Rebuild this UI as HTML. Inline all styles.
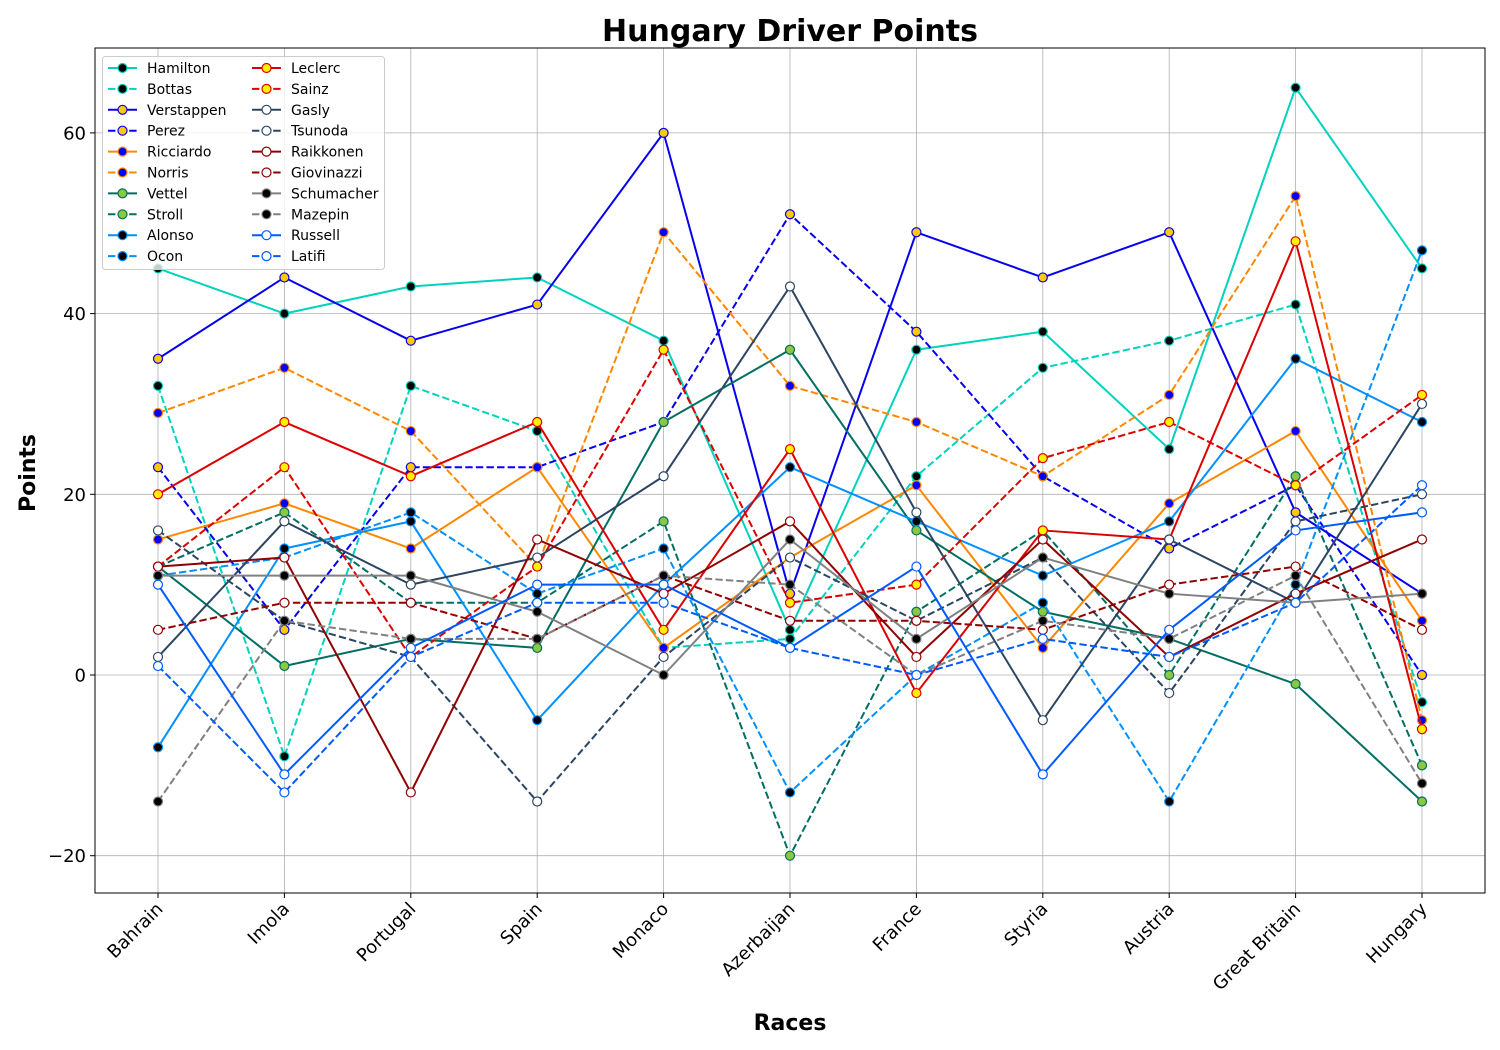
<!DOCTYPE html>
<html><head><meta charset="utf-8"><style>
body{margin:0;background:#fff;}
svg{display:block;font-family:"DejaVu Sans","Liberation Sans",sans-serif;}
</style></head><body>
<svg id="chart" width="1500" height="1050" viewBox="0 0 1500 1050">
<rect x="0" y="0" width="1500" height="1050" fill="#fff"/>
<text x="790" y="41" text-anchor="middle" font-size="30" font-weight="bold">Hungary Driver Points</text>
<g id="grid"></g>
<g id="series"></g>
<rect x="95" y="48" width="1390" height="845" fill="none" stroke="#000" stroke-width="1"/>
<g id="ticks"></g>
<text x="790" y="1030" text-anchor="middle" font-size="22" font-weight="bold">Races</text>
<text transform="translate(35,473) rotate(-90)" text-anchor="middle" font-size="22" font-weight="bold">Points</text>
<g id="legend"></g>
</svg>
<script>
const races = ["Bahrain","Imola","Portugal","Spain","Monaco","Azerbaijan","France","Styria","Austria","Great Britain","Hungary"];
const yTicks = [-20,0,20,40,60];
const drivers = ["Hamilton","Bottas","Verstappen","Perez","Ricciardo","Norris","Vettel","Stroll","Alonso","Ocon","Leclerc","Sainz","Gasly","Tsunoda","Raikkonen","Giovinazzi","Schumacher","Mazepin","Russell","Latifi"];
const hamilton = [45,40,43,44,37,5,36,38,25,65,45];
const bottas = [32,-9,32,27,3,4,22,34,37,41,-3];
const verstappen = [35,44,37,41,60,9,49,44,49,18,9];
const perez = [23,5,23,23,28,51,38,22,14,21,0];
const ricciardo = [15,19,14,23,3,13,21,3,19,27,6];
const norris = [29,34,27,12,49,32,28,22,31,53,-5];
const vettel = [12,1,4,3,28,36,16,7,4,-1,-14];
const stroll = [12,18,8,8,17,-20,7,16,0,22,-10];
const alonso = [-8,14,17,-5,10,23,17,11,17,35,28];
const ocon = [11,13,18,9,14,-13,0,8,-14,10,47];
const leclerc = [20,28,22,28,5,25,-2,16,15,48,-6];
const sainz = [12,23,2,12,36,8,10,24,28,21,31];
const gasly = [2,17,10,13,22,43,18,-5,15,8,30];
const tsunoda = [16,6,2,-14,2,13,6,13,-2,17,20];
const raikkonen = [12,13,-13,15,9,17,2,15,2,9,15];
const giovinazzi = [5,8,8,4,11,6,6,5,10,12,5];
const schumacher = [11,11,11,7,0,15,4,13,9,8,9];
const mazepin = [-14,6,4,4,11,10,0,6,4,11,-12];
const russell = [10,-11,3,10,10,3,12,-11,5,16,18];
const latifi = [1,-13,2,8,8,3,0,4,2,8,21];
const seriesValues = [hamilton,bottas,verstappen,perez,ricciardo,norris,vettel,stroll,alonso,ocon,leclerc,sainz,gasly,tsunoda,raikkonen,giovinazzi,schumacher,mazepin,russell,latifi];

const lineColors = ["#00D2BE","#00D2BE","#0600EF","#0600EF","#FF8700","#FF8700","#006F62","#006F62","#0090FF","#0090FF","#DC0000","#DC0000","#2B4562","#2B4562","#900000","#900000","#808080","#808080","#005AFF","#005AFF"];
const faceColors = ["#000","#000","#FFC906","#FFC906","#0000FF","#0000FF","#8DC63F","#8DC63F","#000","#000","#FFF200","#FFF200","#fff","#fff","#fff","#fff","#000","#000","#fff","#fff"];

const NS="http://www.w3.org/2000/svg";
const X0=158, DX=126.4, Y0=675, PPU=9.035;
function xs(i){return X0+i*DX;}
function ys(v){return Y0-v*PPU;}
function mk(tag,attrs,parent){const e=document.createElementNS(NS,tag);for(const k in attrs)e.setAttribute(k,attrs[k]);parent.appendChild(e);return e;}

const grid=document.getElementById('grid');
const ticks=document.getElementById('ticks');
races.forEach((r,i)=>{
  const x=xs(i);
  const gl=mk('line',{x1:x,x2:x,y1:48,y2:893,stroke:'#b0b0b0','stroke-width':0.8},grid);
  
  
  const tk=mk('line',{x1:x,x2:x,y1:893,y2:898,stroke:'#000','stroke-width':1},ticks);
  
  
  const t=mk('text',{x:x+6,y:910,'text-anchor':'end','font-size':18,transform:`rotate(-45 ${x+6} 910)`},ticks);
  t.textContent=r;
  
  
});
yTicks.forEach(v=>{
  const y=ys(v);
  const gl=mk('line',{x1:95,x2:1485,y1:y,y2:y,stroke:'#b0b0b0','stroke-width':0.8},grid);
  
  
  const tk=mk('line',{x1:90,x2:95,y1:y,y2:y,stroke:'#000','stroke-width':1},ticks);
  
  
  const t=mk('text',{x:86,y:y+6.5,'text-anchor':'end','font-size':18},ticks);
  t.textContent=(v<0?'\u2212'+Math.abs(v):String(v));
  
  
});

const sg=document.getElementById('series');
seriesValues.forEach((vals,s)=>{
  const g=mk('g',{},sg);
  
  
  const pts=vals.map((v,i)=>xs(i)+','+ys(v)).join(' ');
  const pl=mk('polyline',{points:pts,fill:'none',stroke:lineColors[s],'stroke-width':2,'stroke-linejoin':'round'},g);
  if(s%2===1) pl.setAttribute('stroke-dasharray','7.4 3.2');
  
  
  vals.forEach((v,i)=>{
    const c=mk('circle',{cx:xs(i),cy:ys(v),r:4.5,fill:faceColors[s],stroke:lineColors[s],'stroke-width':1.2},g);
    
    
  });
});

const lg=document.getElementById('legend');
const box=mk('rect',{x:102.5,y:56.5,width:282,height:213,rx:3,fill:'#fff','fill-opacity':0.8,stroke:'#ccc','stroke-width':1},lg);


drivers.forEach((d,s)=>{
  const col=Math.floor(s/10), row=s%10;
  const lx=col?252:108, ty=68+row*20.9;
  const g=mk('g',{},lg);
  
  
  const ln=mk('line',{x1:lx,x2:lx+29,y1:ty,y2:ty,stroke:lineColors[s],'stroke-width':2},g);
  if(s%2===1) ln.setAttribute('stroke-dasharray','7.4 3.2');
  mk('circle',{cx:lx+14.5,cy:ty,r:4.5,fill:faceColors[s],stroke:lineColors[s],'stroke-width':1.2},g);
  const t=mk('text',{x:lx+39,y:ty+5,'font-size':14},g);
  t.textContent=d;
});
</script>
</body></html>
